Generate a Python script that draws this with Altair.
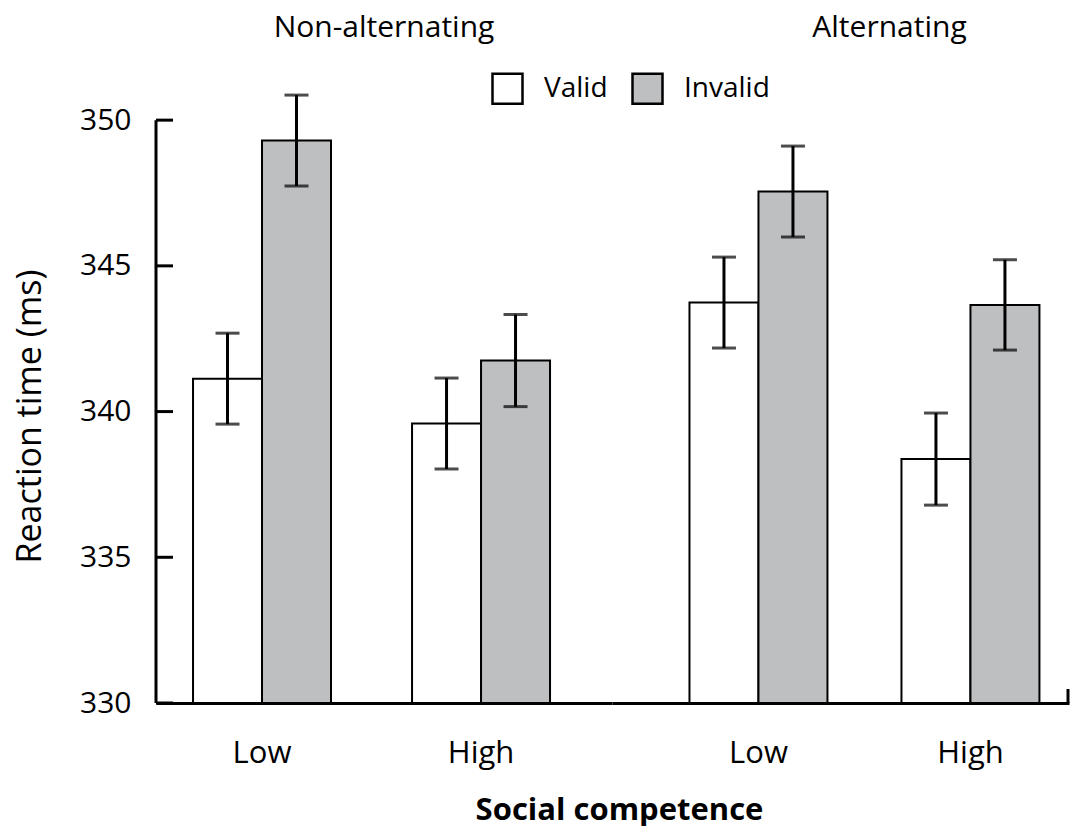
import altair as alt
import pandas as pd

# ---- data ----
panels = ["Non-alternating"] * 4 + ["Alternating"] * 4
competence = ["Low", "Low", "High", "High", "Low", "Low", "High", "High"]
cue = ["Valid", "Invalid"] * 4
rt_mean = [341.13, 349.30, 339.59, 341.75, 343.74, 347.55, 338.37, 343.66]
rt_err = [1.56, 1.56, 1.56, 1.58, 1.56, 1.56, 1.58, 1.55]
y_ticks = [330, 335, 340, 345, 350]

cue_order = ["Valid", "Invalid"]
comp_order = ["Low", "High"]
cue_colors = ["#ffffff", "#bebfc1"]

df = pd.DataFrame({
    "panel": panels,
    "competence": competence,
    "cue": cue,
    "rt": rt_mean,
    "lo": [m - e for m, e in zip(rt_mean, rt_err)],
    "hi": [m + e for m, e in zip(rt_mean, rt_err)],
})
ticks_df = pd.DataFrame({"t": y_ticks})
domain_df = pd.DataFrame({"a": [y_ticks[0]], "b": [y_ticks[-1]]})

FONT = "Open Sans"
H = 612
YDOM = [330, 351]


def make_panel(name, width, p_inner, p_outer, align, first, title_dx):
    d = df[df["panel"] == name]
    xs = alt.X(
        "competence:N",
        sort=comp_order,
        scale=alt.Scale(paddingInner=p_inner, paddingOuter=p_outer, align=align),
        axis=alt.Axis(
            title=None, ticks=False, labelAngle=0, labelPadding=35,
            labelFontSize=31, labelFont=FONT, labelColor="black",
            domainColor="black", domainWidth=3,
        ),
    )
    xo = alt.XOffset("cue:N", sort=cue_order,
                     scale=alt.Scale(paddingInner=0, paddingOuter=0))
    yscale = alt.Scale(domain=YDOM, nice=False, zero=False)
    if first:
        yaxis = alt.Axis(
            title="Reaction time (ms)", values=y_ticks, ticks=False, domain=False,
            labelPadding=25, labelFontSize=30, labelFont=FONT, labelColor="black",
            titleFontSize=34, titleFont=FONT, titleFontWeight="normal",
            titleColor="black", titlePadding=32, titleY=325, grid=False,
        )
    else:
        yaxis = None

    base = alt.Chart(d)
    bars = base.mark_bar(stroke="black", strokeWidth=2).encode(
        x=xs, xOffset=xo,
        y=alt.Y("rt:Q", scale=yscale, axis=yaxis),
        y2=alt.Y2(datum=330),
        color=alt.Color(
            "cue:N", sort=cue_order,
            scale=alt.Scale(domain=cue_order, range=cue_colors),
            legend=alt.Legend(
                title=None, orient="none", legendX=335, legendY=-19,
                direction="horizontal", symbolType="square", symbolSize=900,
                symbolStrokeColor="black", symbolStrokeWidth=2.5,
                symbolOpacity=1, labelFontSize=28, labelFont=FONT,
                labelColor="black", labelOffset=20, columnPadding=19,
            ),
        ),
    )
    err = base.mark_rule(color="black", strokeWidth=3).encode(
        x=xs, xOffset=xo,
        y=alt.Y("lo:Q", scale=yscale), y2="hi:Q",
    )
    cap_lo = base.mark_tick(color="black", thickness=3, size=24).encode(
        x=xs, xOffset=xo, y=alt.Y("lo:Q", scale=yscale),
    )
    cap_hi = base.mark_tick(color="black", thickness=3, size=24).encode(
        x=xs, xOffset=xo, y=alt.Y("hi:Q", scale=yscale),
    )
    layers = [bars, err, cap_lo, cap_hi]
    if first:
        yt = alt.Chart(ticks_df).mark_rule(color="black", strokeWidth=3).encode(
            y=alt.Y("t:Q", scale=yscale), x=alt.value(0), x2=alt.value(17),
        )
        ydom = alt.Chart(domain_df).mark_rule(color="black", strokeWidth=3).encode(
            y=alt.Y("a:Q", scale=yscale), y2="b:Q", x=alt.value(0),
        )
        layers += [yt, ydom]
    else:
        endtick = alt.Chart(domain_df).mark_rule(color="black", strokeWidth=3).encode(
            x=alt.value(width - 1), y=alt.value(H), y2=alt.value(H - 14),
        )
        layers.append(endtick)
    return alt.layer(*layers).properties(
        width=width, height=H,
        title=alt.TitleParams(
            name, fontSize=30, font=FONT, fontWeight="normal", color="black",
            offset=48, frame="group", anchor="middle", dx=title_dx,
        ),
    )


p1 = make_panel("Non-alternating", 456, 0.37, 0.226, 0.374, True, 0)
p2 = make_panel("Alternating", 457, 0.349, 0.2524, 0.724, False, 49)

chart = alt.hconcat(p1, p2, spacing=0).resolve_scale(
    x="independent", color="shared"
).properties(
    background="white",
    padding={"left": 5, "top": 5, "right": 0, "bottom": 0},
    title=alt.TitleParams(
        "Social competence", orient="bottom", anchor="middle", fontSize=31,
        font=FONT, fontWeight="bold", color="black", offset=28, dx=78,
    ),
).configure_view(strokeWidth=0, stroke="transparent")

chart.save("out.html", embed_options={"renderer": "svg", "actions": False})
